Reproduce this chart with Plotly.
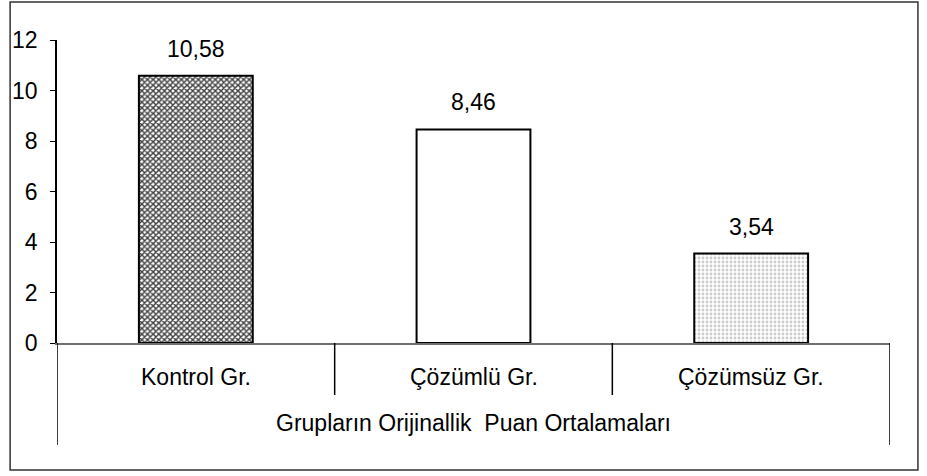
import plotly.graph_objects as go

categories = ["Kontrol Gr.", "Çözümlü Gr.", "Çözümsüz Gr."]
values = [10.58, 8.46, 3.54]
group_title = "Grupların Orijinallik  Puan Ortalamaları"
y_ticks = [0, 2, 4, 6, 8, 10, 12]

labels = [f"{v:.2f}".replace(".", ",") for v in values]
xs = list(range(len(categories)))

FONT = "Liberation Sans, Arial, sans-serif"
FS = 23

fig = go.Figure()
fig.add_trace(go.Bar(
    x=xs, y=values, width=0.41,
    marker=dict(
        color=["#404040", "#ffffff", "#cccccc"],
        line=dict(color="#000000", width=2),
        pattern=dict(
            shape=["x", "", "."],
            fgcolor=["#0a0a0a", "#ffffff", "#6f6f6f"],
            bgcolor=["#5c5c5c", "#ffffff", "#ececec"],
            size=[4, 6, 4],
            solidity=[0.6, 0.1, 0.4],
            fillmode="replace",
        ),
    ),
    hoverinfo="skip",
))

annotations = []
for x, v, t in zip(xs, values, labels):
    annotations.append(dict(x=x, y=v, xref="x", yref="y", text=t, showarrow=False,
                            yshift=27, font=dict(size=FS, color="#000", family=FONT)))
for x, c in zip(xs, categories):
    annotations.append(dict(x=x, y=0, xref="x", yref="paper", text=c, showarrow=False,
                            yshift=-34, yanchor="middle",
                            font=dict(size=FS, color="#000", family=FONT)))
annotations.append(dict(x=0.5, y=0, xref="paper", yref="paper", text=group_title,
                        showarrow=False, yshift=-80, yanchor="middle",
                        font=dict(size=FS, color="#000", family=FONT)))

shapes = []
for xd in [0.5, 1.5]:
    shapes.append(dict(type="line", xref="x", yref="paper", x0=xd, x1=xd,
                       y0=0, y1=-52 / 303, line=dict(color="#000", width=1.5)))
for xd in [-0.5, 2.5]:
    shapes.append(dict(type="line", xref="x", yref="paper", x0=xd, x1=xd,
                       y0=0, y1=-102 / 303, line=dict(color="#000", width=1.5)))
# outer frame
shapes.append(dict(type="rect", xref="paper", yref="paper",
                   x0=(8 - 55) / 835, x1=(918 - 55) / 835,
                   y0=(343 - 470) / 303, y1=(343 - 2) / 303,
                   line=dict(color="#333", width=1.5)))

fig.update_layout(
    width=927, height=476,
    margin=dict(l=55, r=37, t=40, b=133),
    paper_bgcolor="white", plot_bgcolor="white",
    showlegend=False,
    annotations=annotations,
    shapes=shapes,
    font=dict(family=FONT, color="#000"),
    xaxis=dict(range=[-0.5, 2.5], showticklabels=False, showgrid=False,
               zeroline=False, showline=True, linecolor="#707070", linewidth=1.5,
               ticks=""),
    yaxis=dict(range=[0, 12], tickvals=y_ticks, showgrid=False, zeroline=False,
               showline=True, linecolor="#000", linewidth=1.5,
               ticks="outside", ticklen=5, tickcolor="#000",
               ticklabelstandoff=8, tickfont=dict(size=FS, family=FONT)),
)

fig.write_html("out.html", config={"displayModeBar": False},
               post_script="document.body.style.margin='0';document.body.style.overflow='hidden';")
